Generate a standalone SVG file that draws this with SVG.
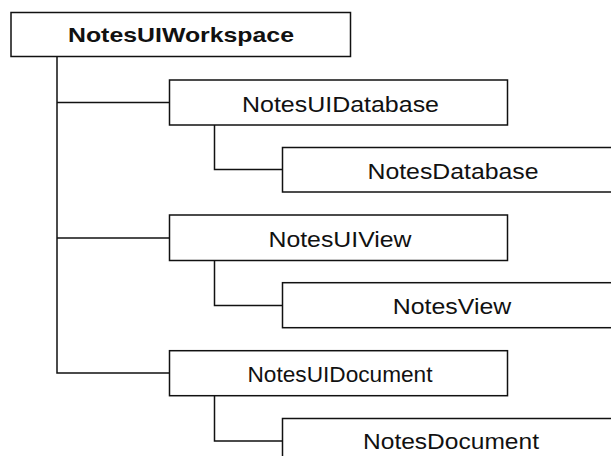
<svg xmlns="http://www.w3.org/2000/svg" width="611" height="456" viewBox="0 0 611 456">
<style>
.box{fill:#fff;stroke:#111;stroke-width:1.5}
.ln{fill:none;stroke:#111;stroke-width:1.5}
text{font-family:"Liberation Sans",Arial,sans-serif;font-size:22px;fill:#111;text-anchor:middle}
.b{font-weight:bold;font-size:20.5px}
</style>
<rect width="611" height="456" fill="#fff"/>
<g id="connectors">
<path class="ln" d="M57,56.7 V373 H169.5"/>
<path class="ln" d="M57,102.5 H169.5"/>
<path class="ln" d="M57,238 H169.5"/>
<path class="ln" d="M214.5,125 V169.5 H282.5"/>
<path class="ln" d="M214.5,260.5 V305.5 H282.5"/>
<path class="ln" d="M214.5,395.7 V441 H282.5"/>
</g>
<g id="NotesUIWorkspace">
<rect class="box" x="11" y="12.5" width="339.5" height="44"/>
<text class="b" x="181" y="41.7" textLength="226" lengthAdjust="spacingAndGlyphs">NotesUIWorkspace</text>
</g>
<g id="NotesUIDatabase">
<rect class="box" x="169.5" y="80" width="338" height="45"/>
<text x="340.5" y="111.7" textLength="197" lengthAdjust="spacingAndGlyphs">NotesUIDatabase</text>
</g>
<g id="NotesDatabase">
<rect class="box" x="282.5" y="147.5" width="340" height="44.5"/>
<text x="453" y="178.5" textLength="171" lengthAdjust="spacingAndGlyphs">NotesDatabase</text>
</g>
<g id="NotesUIView">
<rect class="box" x="169.5" y="215" width="338" height="45.5"/>
<text x="340" y="246.5" textLength="143" lengthAdjust="spacingAndGlyphs">NotesUIView</text>
</g>
<g id="NotesView">
<rect class="box" x="282.5" y="282.7" width="340" height="45"/>
<text x="452" y="313.5" textLength="118.5" lengthAdjust="spacingAndGlyphs">NotesView</text>
</g>
<g id="NotesUIDocument">
<rect class="box" x="169.5" y="350.7" width="338" height="45"/>
<text x="340" y="382" textLength="185" lengthAdjust="spacingAndGlyphs">NotesUIDocument</text>
</g>
<g id="NotesDocument">
<rect class="box" x="282.5" y="418.5" width="340" height="45"/>
<text x="451" y="449" textLength="176" lengthAdjust="spacingAndGlyphs">NotesDocument</text>
</g>
</svg>
